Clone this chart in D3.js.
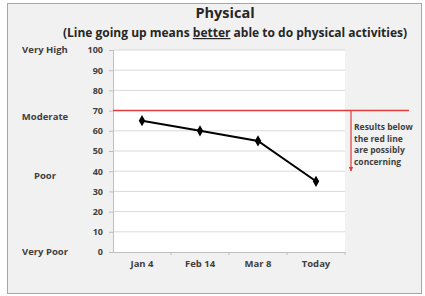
<!DOCTYPE html>
<html>
<head>
<meta charset="utf-8">
<style>
  body { margin: 0; background: #fff; }
  text { font-family: "Open Sans", sans-serif; font-weight: bold; }
</style>
</head>
<body>
<svg id="chart" width="425" height="296"></svg>
<script src="https://cdn.jsdelivr.net/npm/d3@7/dist/d3.min.js"></script>
<script>
// data
var categories = ['Jan 4', 'Feb 14', 'Mar 8', 'Today'];
var scores = [65, 60, 55, 35];
var yTicks = [0, 10, 20, 30, 40, 50, 60, 70, 80, 90, 100];
var levelLabels = ['Very High', 'Moderate', 'Poor', 'Very Poor'];
var levelValues = [100, 67, 38, 0];
var threshold = 70;
var noteLines = ['Results below', 'the red line', 'are possibly', 'concerning'];

var svg = d3.select('#chart');

// outer frame
svg.append('rect')
  .attr('x', 7.5).attr('y', 3.5)
  .attr('width', 414).attr('height', 290)
  .attr('fill', '#f1f1f1')
  .attr('stroke', '#a6a6a6');

var x = d3.scaleBand().domain(categories).range([113, 345]);
var y = d3.scaleLinear().domain([0, 100]).range([252, 50]);

// plot area
svg.append('rect')
  .attr('x', 113).attr('y', y(100))
  .attr('width', 345 - 113).attr('height', y(0) - y(100))
  .attr('fill', '#fff');

// gridlines
svg.append('g')
  .selectAll('line')
  .data(yTicks.filter(d => d > 0))
  .join('line')
  .attr('x1', 113).attr('x2', 345)
  .attr('y1', d => y(d)).attr('y2', d => y(d))
  .attr('stroke', '#d9d9d9');

// y axis
var yAxis = svg.append('g')
  .attr('transform', 'translate(113,0)')
  .call(d3.axisLeft(y).tickValues(yTicks).tickSize(4).tickPadding(6));
yAxis.select('.domain').attr('stroke', '#bfbfbf');
yAxis.selectAll('.tick line').attr('stroke', '#bfbfbf');
yAxis.selectAll('text').attr('fill', '#404040').style('font-size', '9px');

// x axis
var xAxis = svg.append('g')
  .attr('transform', 'translate(0,' + y(0) + ')')
  .call(d3.axisBottom(x).tickSize(0).tickPadding(8));
xAxis.select('.domain').attr('stroke', '#bfbfbf');
xAxis.selectAll('text').attr('fill', '#404040').style('font-size', '9.5px');
xAxis.selectAll('.sep')
  .data(categories.slice(1).concat(['end']))
  .join('line')
  .attr('class', 'sep')
  .attr('x1', (d, i) => 113 + x.step() * (i + 1))
  .attr('x2', (d, i) => 113 + x.step() * (i + 1))
  .attr('y1', 0).attr('y2', 3)
  .attr('stroke', '#bfbfbf');

// level labels
svg.append('g')
  .selectAll('text')
  .data(levelLabels)
  .join('text')
  .attr('x', 45)
  .attr('y', (d, i) => y(levelValues[i]))
  .attr('dy', '0.35em')
  .attr('text-anchor', 'middle')
  .attr('fill', '#404040')
  .style('font-size', '9.5px')
  .text(d => d);

// red threshold line and arrow
svg.append('defs').append('marker')
  .attr('id', 'arrow')
  .attr('viewBox', '0 0 10 10')
  .attr('refX', 9).attr('refY', 5)
  .attr('markerWidth', 4).attr('markerHeight', 4)
  .attr('orient', 'auto')
  .append('path')
  .attr('d', 'M0,0L10,5L0,10z')
  .attr('fill', '#e03c3c');

svg.append('line')
  .attr('x1', 113).attr('x2', 409)
  .attr('y1', y(threshold)).attr('y2', y(threshold))
  .attr('stroke', '#e03c3c').attr('stroke-width', 1.5);

svg.append('line')
  .attr('x1', 351).attr('x2', 351)
  .attr('y1', y(threshold)).attr('y2', 171)
  .attr('stroke', '#e03c3c').attr('stroke-width', 1.2)
  .attr('marker-end', 'url(#arrow)');

svg.append('g')
  .selectAll('text')
  .data(noteLines)
  .join('text')
  .attr('x', 354)
  .attr('y', (d, i) => 130 + i * 11.7)
  .attr('fill', '#404040')
  .style('font-size', '8.5px')
  .text(d => d);

// data line
var line = d3.line()
  .x((d, i) => x(categories[i]) + x.bandwidth() / 2)
  .y(d => y(d));

svg.append('path')
  .datum(scores)
  .attr('d', line)
  .attr('fill', 'none')
  .attr('stroke', '#000')
  .attr('stroke-width', 2);

svg.append('g')
  .selectAll('path')
  .data(scores)
  .join('path')
  .attr('transform', (d, i) => 'translate(' + (x(categories[i]) + x.bandwidth() / 2) + ',' + y(d) + ')')
  .attr('d', d3.symbol(d3.symbolDiamond, 36))
  .attr('fill', '#000');

// titles
svg.append('text')
  .attr('x', 225).attr('y', 18)
  .attr('text-anchor', 'middle')
  .attr('fill', '#262626')
  .style('font-size', '14.5px')
  .text('Physical');

var sub = svg.append('text')
  .attr('x', 235).attr('y', 37)
  .attr('text-anchor', 'middle')
  .attr('fill', '#262626')
  .style('font-size', '12px');
sub.append('tspan').text('(Line going up means ');
sub.append('tspan').attr('text-decoration', 'underline').text('better');
sub.append('tspan').text(' able to do physical activities)');
</script>
</body>
</html>
